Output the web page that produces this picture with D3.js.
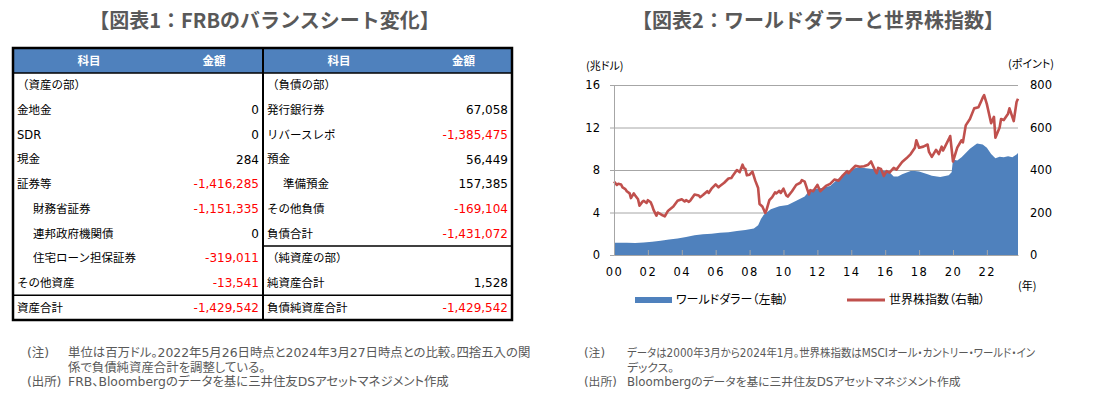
<!DOCTYPE html>
<html lang="ja">
<head>
<meta charset="UTF-8">
<title>FRBのバランスシート変化 / ワールドダラーと世界株指数</title>
<script src="https://d3js.org/d3.v7.min.js"></script>
<style>
  body { margin: 0; background: #fff; }
  svg { display: block; }
  text { font-family: "DejaVu Sans", "Noto Sans CJK JP", sans-serif; }
  .jp { font-family: "Noto Sans CJK JP", sans-serif; }
  .palt { font-feature-settings: "palt"; }
</style>
</head>
<body>
<svg id="chart" width="1100" height="397"></svg>
<script>
// ---- table 1 data ----
var assetItems = ["（資産の部）", "金地金", "SDR", "現金", "証券等", "財務省証券", "連邦政府機関債", "住宅ローン担保証券", "その他資産", "資産合計"];
var assetValues = [null, 0, 0, 284, -1416285, -1151335, 0, -319011, -13541, -1429542];
var assetLevels = [0, 0, 0, 0, 0, 1, 1, 1, 0, 0];
var assetRules = [9];

var liabItems = ["（負債の部）", "発行銀行券", "リバースレポ", "預金", "準備預金", "その他負債", "負債合計", "（純資産の部）", "純資産合計", "負債純資産合計"];
var liabValues = [null, 67058, -1385475, 56449, 157385, -169104, -1431072, null, 1528, -1429542];
var liabLevels = [0, 0, 0, 0, 1, 0, 0, 0, 0, 0];
var liabRules = [7, 9];

var headers = ["科目", "金額"];

// ---- chart 2 data ----
var worldDollar = [
  ["2000-03", 1.15], ["2000-12", 1.15], ["2001-06", 1.12], ["2001-12", 1.18], ["2002-06", 1.25],
  ["2002-12", 1.35], ["2003-06", 1.45], ["2003-12", 1.55], ["2004-06", 1.7], ["2004-12", 1.85],
  ["2005-06", 1.95], ["2005-12", 2.0], ["2006-06", 2.1], ["2006-12", 2.15], ["2007-06", 2.25],
  ["2007-12", 2.35], ["2008-06", 2.5], ["2008-09", 2.8], ["2008-11", 3.4], ["2009-01", 3.8],
  ["2009-06", 4.3], ["2009-12", 4.6], ["2010-06", 4.7], ["2010-12", 5.1], ["2011-06", 5.5],
  ["2011-09", 6.0], ["2011-12", 6.2], ["2012-06", 6.3], ["2012-12", 6.5], ["2013-06", 7.2],
  ["2013-12", 7.8], ["2014-06", 8.2], ["2014-09", 8.25], ["2014-12", 8.2], ["2015-06", 8.1],
  ["2015-12", 8.0], ["2016-06", 7.8], ["2016-09", 7.4], ["2016-12", 7.4], ["2017-03", 7.6],
  ["2017-09", 7.9], ["2017-12", 7.9], ["2018-03", 7.85], ["2018-09", 7.6], ["2018-12", 7.45],
  ["2019-06", 7.35], ["2019-12", 7.5], ["2020-02", 7.8], ["2020-03", 9.0], ["2020-06", 8.9],
  ["2020-09", 9.2], ["2020-12", 9.6], ["2021-03", 10.0], ["2021-08", 10.5], ["2021-12", 10.4],
  ["2022-03", 10.1], ["2022-06", 9.5], ["2022-09", 9.1], ["2022-12", 9.25], ["2023-03", 9.2],
  ["2023-06", 9.3], ["2023-09", 9.2], ["2023-12", 9.45], ["2024-01", 9.6]
];

var worldStocks = [
  ["2000-03", 346], ["2000-05", 330], ["2000-06", 335], ["2000-08", 332], ["2000-09", 318],
  ["2000-11", 310], ["2000-12", 300], ["2001-02", 290], ["2001-03", 268], ["2001-05", 290],
  ["2001-06", 280], ["2001-08", 262], ["2001-09", 232], ["2001-11", 250], ["2001-12", 255],
  ["2002-02", 245], ["2002-03", 258], ["2002-05", 248], ["2002-06", 232], ["2002-07", 212],
  ["2002-09", 185], ["2002-10", 200], ["2002-12", 192], ["2003-01", 188], ["2003-03", 182],
  ["2003-05", 205], ["2003-06", 212], ["2003-09", 228], ["2003-12", 255], ["2004-03", 262],
  ["2004-05", 252], ["2004-06", 258], ["2004-08", 250], ["2004-09", 256], ["2004-12", 285],
  ["2005-03", 280], ["2005-04", 272], ["2005-06", 282], ["2005-09", 300], ["2005-10", 292],
  ["2005-12", 312], ["2006-03", 332], ["2006-05", 318], ["2006-06", 325], ["2006-09", 340],
  ["2006-12", 360], ["2007-02", 362], ["2007-03", 372], ["2007-06", 400], ["2007-08", 390],
  ["2007-10", 425], ["2007-11", 408], ["2007-12", 405], ["2008-01", 375], ["2008-03", 378],
  ["2008-05", 392], ["2008-07", 350], ["2008-09", 315], ["2008-10", 240], ["2008-12", 228],
  ["2009-02", 198], ["2009-03", 212], ["2009-05", 258], ["2009-07", 272], ["2009-09", 295],
  ["2009-10", 290], ["2009-12", 302], ["2010-01", 292], ["2010-03", 312], ["2010-05", 280],
  ["2010-06", 275], ["2010-09", 300], ["2010-12", 330], ["2011-03", 340], ["2011-04", 352],
  ["2011-06", 345], ["2011-08", 305], ["2011-09", 285], ["2011-10", 305], ["2011-12", 300],
  ["2012-03", 330], ["2012-05", 300], ["2012-09", 325], ["2012-12", 335], ["2013-03", 355],
  ["2013-06", 350], ["2013-09", 375], ["2013-12", 395], ["2014-01", 385], ["2014-03", 400],
  ["2014-06", 420], ["2014-09", 415], ["2014-12", 418], ["2015-03", 425], ["2015-05", 440],
  ["2015-08", 395], ["2015-09", 385], ["2015-10", 410], ["2015-12", 405], ["2016-02", 372],
  ["2016-04", 395], ["2016-06", 388], ["2016-09", 410], ["2016-11", 402], ["2016-12", 412],
  ["2017-03", 438], ["2017-06", 455], ["2017-09", 475], ["2017-12", 505], ["2018-01", 540],
  ["2018-03", 505], ["2018-06", 510], ["2018-09", 520], ["2018-10", 485], ["2018-12", 462],
  ["2019-03", 495], ["2019-05", 475], ["2019-07", 510], ["2019-08", 492], ["2019-09", 505],
  ["2019-12", 545], ["2020-01", 560], ["2020-03", 440], ["2020-06", 505], ["2020-09", 540],
  ["2020-10", 530], ["2020-12", 610], ["2021-03", 640], ["2021-06", 690], ["2021-09", 695],
  ["2021-11", 725], ["2021-12", 740], ["2022-01", 752], ["2022-03", 710], ["2022-06", 620],
  ["2022-08", 650], ["2022-09", 552], ["2022-12", 600], ["2023-01", 640], ["2023-03", 635],
  ["2023-06", 665], ["2023-07", 690], ["2023-10", 630], ["2023-12", 720], ["2024-01", 735]
];

var leftTicks = [0, 4, 8, 12, 16];
var rightTicks = [0, 200, 400, 600, 800];

var svg = d3.select("#chart");
var fmt = d3.formatLocale({ decimal: ".", thousands: ",", grouping: [3], currency: ["", ""], minus: "-" }).format(",");

// ================= table =================
var T = { left: 13, right: 512, mid: 263, top: 48, headH: 25, rowH: 24.7 };
var colW = 152; // width of the 科目 column in each half

svg.append("text")
    .attr("class", "jp")
    .attr("x", (T.left + T.right) / 2 + 2).attr("y", 28)
    .attr("text-anchor", "middle")
    .style("font-size", "20px").style("font-weight", "bold").style("fill", "#595959")
    .text("【図表1：FRBのバランスシート変化】");

var tableBottom = T.top + T.headH + T.rowH * 10;

// header
svg.append("rect")
    .attr("x", T.left).attr("y", T.top)
    .attr("width", T.right - T.left).attr("height", T.headH)
    .attr("fill", "#4f81bd");

[T.left, T.mid].forEach(function(x0) {
    var w = (x0 === T.left ? T.mid - T.left : T.right - T.mid);
    svg.append("text").attr("class", "jp")
        .attr("x", x0 + colW / 2).attr("y", T.top + T.headH / 2).attr("dy", "0.35em")
        .attr("text-anchor", "middle").style("font-size", "11.5px").style("font-weight", "bold").style("fill", "#fff")
        .text(headers[0]);
    svg.append("text").attr("class", "jp")
        .attr("x", x0 + colW + (w - colW) / 2).attr("y", T.top + T.headH / 2).attr("dy", "0.35em")
        .attr("text-anchor", "middle").style("font-size", "11.5px").style("font-weight", "bold").style("fill", "#fff")
        .text(headers[1]);
});

function drawHalf(items, values, levels, rules, x0, x1) {
    var g = svg.append("g");
    var rows = g.selectAll("g.row")
        .data(items.map(function(d, i) { return { label: d, value: values[i], level: levels[i], i: i }; }))
        .enter().append("g")
        .attr("transform", function(d) { return "translate(0," + (T.top + T.headH + d.i * T.rowH + T.rowH / 2) + ")"; });

    rows.append("text")
        .attr("x", function(d) { return x0 + 4 + d.level * 16; })
        .attr("dy", "0.35em")
        .style("font-size", "11.5px").style("fill", "#000")
        .text(function(d) { return d.label; });

    rows.filter(function(d) { return d.value !== null; })
        .append("text")
        .attr("x", x1 - 4)
        .attr("dy", "0.35em")
        .attr("text-anchor", "end")
        .style("font-size", "12px")
        .style("fill", function(d) { return d.value < 0 ? "#ff0000" : "#000"; })
        .text(function(d) { return fmt(d.value); });

    g.selectAll("line.rule")
        .data(rules)
        .enter().append("line")
        .attr("x1", x0).attr("x2", x1)
        .attr("y1", function(r) { return T.top + T.headH + r * T.rowH; })
        .attr("y2", function(r) { return T.top + T.headH + r * T.rowH; })
        .attr("stroke", "#000").attr("stroke-width", 1.5);
}
drawHalf(assetItems, assetValues, assetLevels, assetRules, T.left, T.mid);
drawHalf(liabItems, liabValues, liabLevels, liabRules, T.mid, T.right);

// header bottom, divider and outer border
svg.append("line").attr("x1", T.left).attr("x2", T.right)
    .attr("y1", T.top + T.headH).attr("y2", T.top + T.headH)
    .attr("stroke", "#000").attr("stroke-width", 1.5);
svg.append("line").attr("x1", T.mid).attr("x2", T.mid)
    .attr("y1", T.top).attr("y2", tableBottom)
    .attr("stroke", "#000").attr("stroke-width", 2);
svg.append("rect")
    .attr("x", T.left).attr("y", T.top)
    .attr("width", T.right - T.left).attr("height", tableBottom - T.top)
    .attr("fill", "none").attr("stroke", "#000").attr("stroke-width", 2.5);

// ================= chart =================
var P = { left: 614, right: 1018, top: 85, bottom: 255 };
var parse = d3.timeParse("%Y-%m");

svg.append("text")
    .attr("class", "jp")
    .attr("x", 818).attr("y", 28)
    .attr("text-anchor", "middle")
    .style("font-size", "20px").style("font-weight", "bold").style("fill", "#595959")
    .text("【図表2：ワールドダラーと世界株指数】");

var x = d3.scaleTime()
    .domain([parse("2000-03"), parse("2024-01")])
    .range([P.left, P.right]);
var yL = d3.scaleLinear().domain([0, 16]).range([P.bottom, P.top]);
var yR = d3.scaleLinear().domain([0, 800]).range([P.bottom, P.top]);

// gridlines
svg.append("g")
    .attr("transform", "translate(" + P.left + ",0)")
    .call(d3.axisLeft(yL).tickValues(leftTicks.slice(1)).tickSize(-(P.right - P.left)).tickFormat(""))
    .call(function(g) { g.select(".domain").remove(); })
    .selectAll("line").attr("stroke", "#a6a6a6");

// world dollar area
svg.append("path")
    .datum(worldDollar)
    .attr("fill", "#4f81bd")
    .attr("d", d3.area()
        .x(function(d) { return x(parse(d[0])); })
        .y0(P.bottom)
        .y1(function(d) { return yL(d[1]); }));

// world stocks line
svg.append("path")
    .datum(worldStocks)
    .attr("fill", "none")
    .attr("stroke", "#c0504d")
    .attr("stroke-width", 2.6)
    .attr("stroke-linejoin", "round")
    .attr("d", d3.line()
        .x(function(d) { return x(parse(d[0])); })
        .y(function(d) { return yR(d[1]); }));

// left axis
var gl = svg.append("g")
    .attr("transform", "translate(" + P.left + ",0)")
    .call(d3.axisLeft(yL).tickValues(leftTicks).tickSize(4).tickPadding(10));
gl.select(".domain").attr("stroke", "#a6a6a6");
gl.selectAll("line").attr("stroke", "#a6a6a6");
gl.selectAll("text").style("font-size", "11.5px").style("font-family", "DejaVu Sans").attr("fill", "#000");

// right axis (labels only)
var gr = svg.append("g")
    .attr("transform", "translate(" + P.right + ",0)")
    .call(d3.axisRight(yR).tickValues(rightTicks).tickSize(0).tickPadding(12));
gr.select(".domain").remove();
gr.selectAll("text").style("font-size", "11.5px").style("font-family", "DejaVu Sans").attr("fill", "#000");

// bottom axis
var xTicks = d3.timeMonth.range(parse("2000-03"), parse("2023-12"), 24);
var gb = svg.append("g")
    .attr("transform", "translate(0," + P.bottom + ")")
    .call(d3.axisBottom(x).tickValues(xTicks).tickFormat(d3.timeFormat("%y")).tickSizeInner(-5).tickSizeOuter(0).tickPadding(13));
gb.select(".domain").attr("stroke", "#a6a6a6");
gb.selectAll("line").attr("stroke", "#a6a6a6");
gb.selectAll("text").style("font-size", "11.5px").style("font-family", "DejaVu Sans").attr("fill", "#000").attr("letter-spacing", "1.5px");

// axis unit labels
svg.append("text").attr("class", "jp palt").attr("x", 586).attr("y", 70)
    .style("font-size", "11px").text("(兆ドル)");
svg.append("text").attr("class", "jp palt").attr("x", 1008).attr("y", 68)
    .style("font-size", "11px").text("(ポイント)");
svg.append("text").attr("class", "jp").attr("x", 1018).attr("y", 290)
    .style("font-size", "11px").text("(年)");

// legend
var legend = svg.append("g").attr("class", "legend");
legend.append("rect").attr("x", 635).attr("y", 297).attr("width", 37).attr("height", 6).attr("fill", "#4f81bd");
legend.append("text").attr("class", "jp palt").attr("x", 676).attr("y", 300).attr("dy", "0.35em")
    .style("font-size", "12px").text("ワールドダラー（左軸）");
legend.append("line").attr("x1", 847).attr("x2", 885).attr("y1", 300).attr("y2", 300)
    .attr("stroke", "#c0504d").attr("stroke-width", 3);
legend.append("text").attr("class", "jp palt").attr("x", 889).attr("y", 300).attr("dy", "0.35em")
    .style("font-size", "12px").text("世界株指数（右軸）");

// ================= notes =================
// fit: width the first text line takes up in the reference (null = natural width)
function notes(x0, x1, size, fit, lines) {
    var g = svg.append("g").attr("class", "jp palt").style("font-size", size + "px").style("fill", "#595959");
    lines.forEach(function(l, i) {
        var y = 357 + i * 14.5;
        if (l[0]) g.append("text").attr("x", x0).attr("y", y).text(l[0]);
        var t = g.append("text").attr("x", x1).attr("y", y).text(l[1]);
        if (i === 0 && fit) t.attr("textLength", fit).attr("lengthAdjust", "spacingAndGlyphs");
    });
}
notes(27, 68, 12.4, null, [
    ["(注)", "単位は百万ドル。2022年5月26日時点と2024年3月27日時点との比較。四捨五入の関"],
    ["", "係で負債純資産合計を調整している。"],
    ["(出所)", "FRB、Bloombergのデータを基に三井住友DSアセットマネジメント作成"]
]);
notes(584, 627, 11.8, 408, [
    ["(注)", "データは2000年3月から2024年1月。世界株指数はMSCIオール・カントリー・ワールド・イン"],
    ["", "デックス。"],
    ["(出所)", "Bloombergのデータを基に三井住友DSアセットマネジメント作成"]
]);
</script>
</body>
</html>
